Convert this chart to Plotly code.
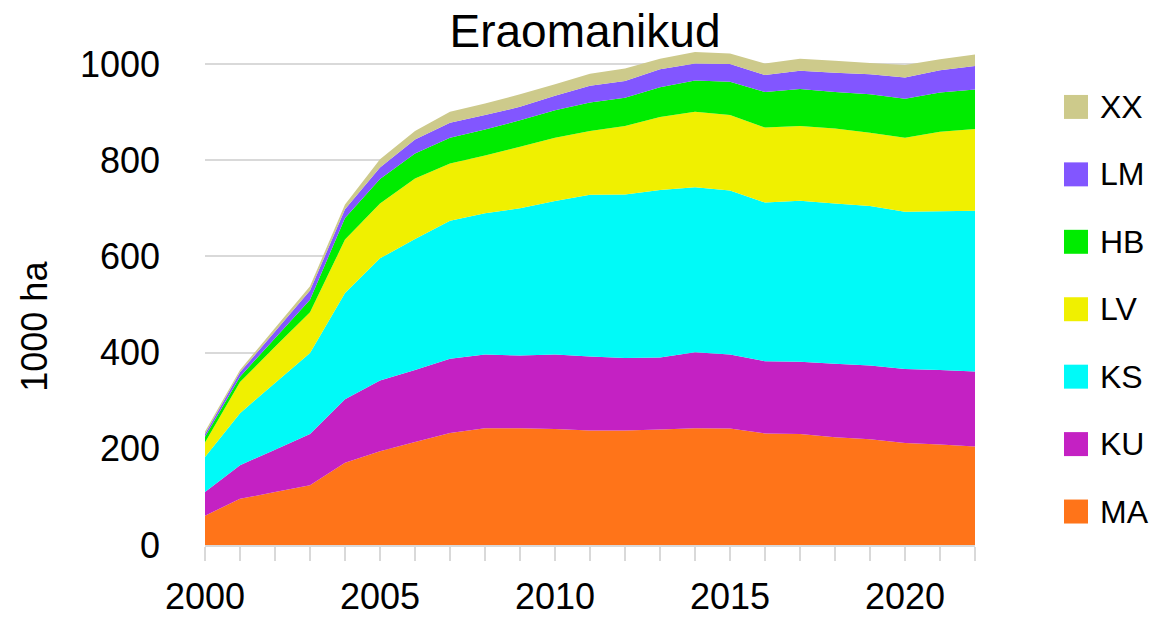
import plotly.graph_objects as go

years = list(range(2000, 2023))
MA = [61, 96, 110, 124, 171, 195, 214, 233, 243, 243, 241, 238, 238, 240, 243, 242, 232, 231, 224, 220, 212, 209, 205]
KU = [49, 70, 88, 107, 132, 147, 150, 154, 153, 151, 155, 154, 151, 150, 158, 154, 150, 150, 153, 153, 154, 155, 156]
KS = [73, 108, 139, 168, 221, 254, 272, 287, 294, 306, 319, 336, 340, 348, 343, 341, 330, 335, 333, 332, 327, 330, 334]
LV = [30, 65, 75, 85, 111, 114, 126, 119, 120, 128, 132, 133, 142, 152, 157, 157, 156, 155, 156, 152, 154, 165, 170]
HB = [12, 11, 18, 26, 45, 51, 52, 54, 54, 55, 57, 59, 59, 62, 65, 69, 74, 77, 76, 80, 81, 82, 82]
LM = [6, 9, 14, 19, 18, 24, 29, 31, 30, 28, 30, 35, 35, 37, 35, 37, 35, 38, 40, 42, 44, 46, 49]
XX = [5, 5, 7, 9, 10, 17, 18, 23, 24, 26, 24, 25, 26, 22, 24, 22, 24, 25, 25, 23, 26, 23, 24]

names = ["MA", "KU", "KS", "LV", "HB", "LM", "XX"]
series = [MA, KU, KS, LV, HB, LM, XX]
colors = ["#FF7419", "#C421C3", "#00FAF8", "#F0F000", "#00EC00", "#8256FF", "#CDCA8B"]

FONT = "Liberation Sans, Arial, sans-serif"
W, H = 1162, 617
L, R, T, B = 205, 187, 40, 71.5

fig = go.Figure()
for n, s, c in zip(names, series, colors):
    fig.add_trace(go.Scatter(
        x=years, y=s, name=n, stackgroup="one", mode="none",
        fillcolor=c, showlegend=False,
    ))

# manual legend (top to bottom: XX ... MA)
pw = W - L - R
ph = H - T - B
shapes = []
annotations = []
for i, (n, c) in enumerate(zip(names[::-1], colors[::-1])):
    cy = 107 + 67.5 * i
    y0 = (H - B - (cy + 12)) / ph
    y1 = (H - B - (cy - 12)) / ph
    x0 = (1064 - L) / pw
    x1 = (1088 - L) / pw
    shapes.append(dict(type="rect", xref="paper", yref="paper", x0=x0, x1=x1, y0=y0, y1=y1,
                       fillcolor=c, line=dict(width=0)))
    annotations.append(dict(xref="paper", yref="paper", x=(1098 - L) / pw, y=(H - B - cy) / ph,
                            text=n, showarrow=False, xanchor="left", yanchor="middle",
                            font=dict(family=FONT, size=32, color="#000000")))

# y-axis title
annotations.append(dict(xref="paper", yref="paper", x=(35 - L) / pw, y=(H - B - 327) / ph,
                        text="1000 ha", textangle=-90, showarrow=False,
                        xanchor="center", yanchor="middle",
                        font=dict(family=FONT, size=36, color="#000000")))

fig.update_layout(
    width=W, height=H,
    margin=dict(l=L, r=R, t=T, b=B, autoexpand=False),
    paper_bgcolor="white", plot_bgcolor="white",
    title=dict(text="Eraomanikud", x=585 / W, xanchor="center", y=1 - 31 / H, yanchor="middle",
               font=dict(family=FONT, size=46, color="#000000")),
    shapes=shapes, annotations=annotations,
    showlegend=False,
    xaxis=dict(range=[2000, 2022], tickmode="linear", tick0=2000, dtick=5,
               ticks="outside", ticklen=14, tickcolor="#D9D9D9", tickwidth=1.5,
               minor=dict(dtick=1, tick0=2000, ticks="outside", ticklen=14, tickcolor="#D9D9D9", tickwidth=1.5),
               showline=True, linecolor="#D9D9D9", linewidth=1.5,
               showgrid=False, zeroline=False, ticklabelstandoff=5,
               tickfont=dict(family=FONT, size=36, color="#000000")),
    yaxis=dict(range=[0, 1050], tickmode="linear", tick0=0, dtick=200,
               showgrid=True, gridcolor="#D9D9D9", gridwidth=1.5,
               zeroline=False, showline=False, ticks="", ticklabelstandoff=44,
               tickfont=dict(family=FONT, size=36, color="#000000")),
)

fig.write_html("out.html", config={"displayModeBar": False},
               post_script="document.body.style.margin='0';document.body.style.overflow='hidden';")
